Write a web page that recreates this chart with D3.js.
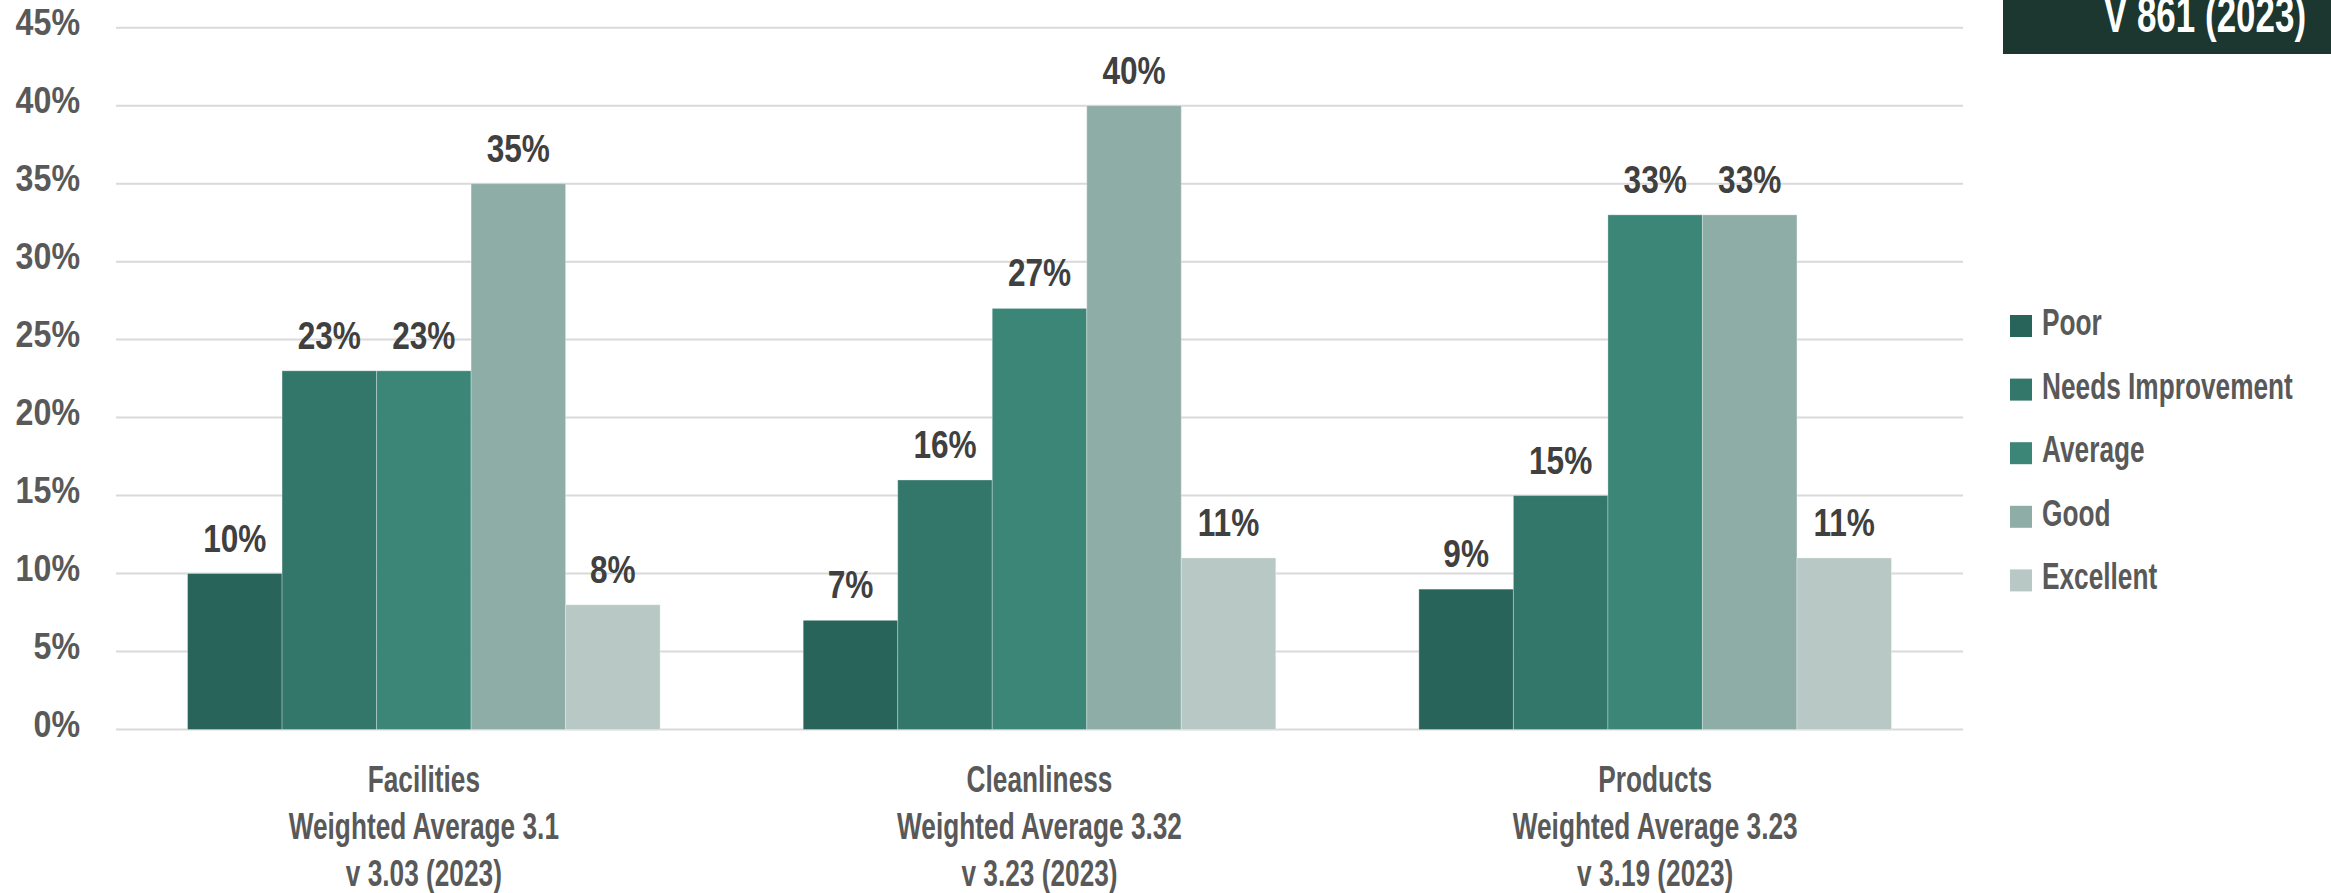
<!DOCTYPE html>
<html>
<head>
<meta charset="utf-8">
<script src="https://cdn.jsdelivr.net/npm/d3@7"></script>
<style>
  html, body { margin: 0; padding: 0; background: #ffffff; }
  svg { display: block; }
</style>
</head>
<body>
<svg id="chart" width="2331" height="893"></svg>
<script>
// Survey ratings by area, percent of respondents
const categories = ["Facilities", "Cleanliness", "Products"];
const categoryLines = [
  ["Facilities", "Weighted Average 3.1", "v 3.03 (2023)"],
  ["Cleanliness", "Weighted Average 3.32", "v 3.23 (2023)"],
  ["Products", "Weighted Average 3.23", "v 3.19 (2023)"]
];
const seriesNames = ["Poor", "Needs Improvement", "Average", "Good", "Excellent"];
const poor = [10, 7, 9];
const needsImprovement = [23, 16, 15];
const average = [23, 27, 33];
const good = [35, 40, 33];
const excellent = [8, 11, 11];
const seriesValues = [poor, needsImprovement, average, good, excellent];
const yTicks = [0, 5, 10, 15, 20, 25, 30, 35, 40, 45];
const badgeText = "V 861 (2023)";

const colors = ["#28645a", "#33766a", "#3b8677", "#8eada6", "#b8c9c5"];
const heavy = "'Liberation Sans', Arial, sans-serif";

const svg = d3.select("#chart");

const plot = { left: 116, right: 1963, top: 27.7, bottom: 729.5 };

const x0 = d3.scaleBand().domain(categories).range([plot.left, plot.right]).padding(0);
const x1 = d3.scaleBand().domain(seriesNames).range([0, x0.bandwidth()])
  .paddingInner(0).paddingOuter(0.757);
const y = d3.scaleLinear().domain([0, 45]).range([plot.bottom, plot.top]);

// narrow heavy text: bold sans squeezed horizontally
function narrowText(parent, x, yPos, str, opts) {
  const g = parent.append("g").attr("transform", `translate(${x},${yPos}) scale(${opts.squeeze},1)`);
  return g.append("text")
    .attr("x", 0).attr("y", 0)
    .attr("text-anchor", opts.anchor || "start")
    .attr("font-family", heavy).attr("font-weight", "bold")
    .attr("font-size", opts.size).attr("fill", opts.fill)
    .text(str);
}

// gridlines
svg.append("g")
  .selectAll("line")
  .data(yTicks)
  .join("line")
  .attr("x1", plot.left).attr("x2", plot.right)
  .attr("y1", d => y(d)).attr("y2", d => y(d))
  .attr("stroke", "#d9d9d9").attr("stroke-width", 2);

// y axis labels
const yLabels = svg.append("g");
yTicks.forEach(t => {
  narrowText(yLabels, 80, y(t) + 7, d3.format("d")(t) + "%",
    { anchor: "end", size: 37, fill: "#595959", squeeze: 0.87 });
});

// bars
const cells = (c, ci) => seriesNames.map((s, si) => ({ s, si, v: seriesValues[si][ci] }));

const groups = svg.append("g")
  .selectAll("g")
  .data(categories)
  .join("g")
  .attr("transform", d => `translate(${x0(d)},0)`);

groups.selectAll("rect")
  .data(cells)
  .join("rect")
  .attr("x", d => x1(d.s))
  .attr("width", x1.bandwidth())
  .attr("y", d => y(d.v))
  .attr("height", d => y(0) - y(d.v))
  .attr("fill", d => colors[d.si])
  .attr("stroke", "rgba(255,255,255,0.3)")
  .attr("stroke-width", 1);

// value labels
groups.each(function (c, ci) {
  const g = d3.select(this);
  cells(c, ci).forEach(d => {
    narrowText(g, x1(d.s) + x1.bandwidth() / 2, y(d.v) - 22, d.v + "%",
      { anchor: "middle", size: 39, fill: "#404040", squeeze: 0.81 });
  });
});

// category labels
categories.forEach((c, ci) => {
  const cx = x0(c) + x0.bandwidth() / 2;
  categoryLines[ci].forEach((line, li) => {
    narrowText(svg, cx, 792 + li * 47, line,
      { anchor: "middle", size: 37.5, fill: "#595959", squeeze: 0.70 });
  });
});

// legend
const legendTop = 326;
const legendStep = 63.6;
seriesNames.forEach((s, i) => {
  const cy = legendTop + i * legendStep;
  svg.append("rect")
    .attr("x", 2010).attr("y", cy - 11)
    .attr("width", 22).attr("height", 22)
    .attr("fill", colors[i]);
  narrowText(svg, 2042, cy + 9, s,
    { anchor: "start", size: 37.5, fill: "#595959", squeeze: 0.70 });
});

// badge in the top right corner
svg.append("rect")
  .attr("x", 2003).attr("y", 0)
  .attr("width", 2331 - 2003).attr("height", 54)
  .attr("fill", "#1c3630");
narrowText(svg, 2205, 32, badgeText,
  { anchor: "middle", size: 50, fill: "#ffffff", squeeze: 0.70 });
</script>
</body>
</html>
